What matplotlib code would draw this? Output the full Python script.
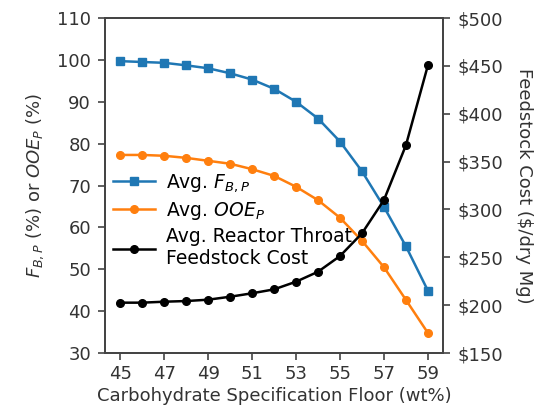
"""Carbohydrate specification floor vs. F_B,P, OOE_P and feedstock cost."""

import matplotlib
matplotlib.use("Agg")
import matplotlib.pyplot as plt
from matplotlib.ticker import FuncFormatter

# Data
spec_floor = [45, 46, 47, 48, 49, 50, 51, 52, 53, 54, 55, 56, 57, 58, 59]
f_bp = [99.7, 99.5, 99.3, 98.7, 98.0, 96.8, 95.3, 93.1, 90.0, 86.0,
        80.5, 73.4, 64.9, 55.5, 44.9]
ooe_p = [77.3, 77.3, 77.1, 76.6, 75.9, 75.2, 73.9, 72.3, 69.7, 66.5,
         62.3, 56.8, 50.5, 42.7, 34.8]
feed_cost = [202.6, 202.6, 203.6, 204.3, 205.7, 208.8, 212.4, 216.5,
             224.5, 234.9, 251.3, 275.0, 309.8, 367.0, 450.5]
x_ticks = [45, 47, 49, 51, 53, 55, 57, 59]
left_ticks = [30, 40, 50, 60, 70, 80, 90, 100, 110]
right_ticks = [150, 200, 250, 300, 350, 400, 450, 500]

plt.rcParams["font.size"] = 13
plt.rcParams["axes.linewidth"] = 1.3
plt.rcParams["axes.edgecolor"] = "#444444"
plt.rcParams["xtick.color"] = "#444444"
plt.rcParams["ytick.color"] = "#444444"
plt.rcParams["xtick.major.width"] = 1.2
plt.rcParams["ytick.major.width"] = 1.2
plt.rcParams["xtick.major.size"] = 5
plt.rcParams["ytick.major.size"] = 5
plt.rcParams["ytick.major.pad"] = 5
plt.rcParams["xtick.labelcolor"] = "#333333"
plt.rcParams["ytick.labelcolor"] = "#333333"
plt.rcParams["axes.labelcolor"] = "#333333"

fig, ax = plt.subplots(figsize=(5.52, 4.19), dpi=100)
fig.subplots_adjust(left=0.19, right=0.803, top=0.957, bottom=0.1575)

ax2 = ax.twinx()

l1, = ax.plot(spec_floor, f_bp, color="#1f77b4", marker="s", markersize=5.5,
              linewidth=1.8, label="Avg. $F_{B,P}$")
l2, = ax.plot(spec_floor, ooe_p, color="#ff7f0e", marker="o", markersize=5.5,
              linewidth=1.8, label="Avg. $OOE_P$")
l3, = ax2.plot(spec_floor, feed_cost, color="black", marker="o",
               markersize=5.5, linewidth=1.8,
               label="Avg. Reactor Throat\nFeedstock Cost")

ax.set_ylim(30, 110)
ax.set_yticks(left_ticks)
ax.set_xticks(x_ticks)
ax2.set_ylim(150, 500)
ax2.set_yticks(right_ticks)
ax2.yaxis.set_major_formatter(FuncFormatter(lambda v, p: f"${v:.0f}"))

ax.set_xlabel("Carbohydrate Specification Floor (wt%)", labelpad=3)
ax.set_ylabel("$F_{B,P}$ (%) or $OOE_P$ (%)", labelpad=8)
ax2.set_ylabel("Feedstock Cost (\\$/dry Mg)", rotation=270, labelpad=22)

ax2.legend(handles=[l1, l2, l3], loc="upper left",
           bbox_to_anchor=(-0.025, 0.59), frameon=False,
           handlelength=2.2, handletextpad=0.6, labelspacing=0.3,
           fontsize=13.5)

fig.savefig("out.png", dpi=100)
